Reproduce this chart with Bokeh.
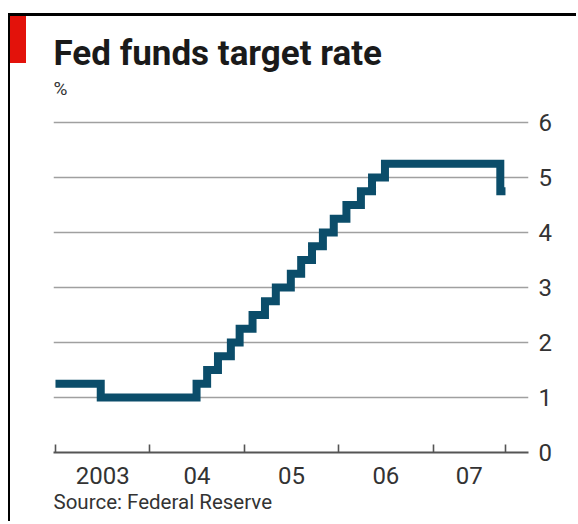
import pandas as pd
from bokeh.plotting import figure
from bokeh.models import Range1d, FixedTicker, Label, Title
from bokeh.embed import file_html
from bokeh.resources import INLINE

# ---- data (Fed funds target rate changes) ----
change_dates = ["2003-01-01", "2003-06-25", "2004-06-30", "2004-08-10", "2004-09-21",
                "2004-11-10", "2004-12-14", "2005-02-02", "2005-03-22", "2005-05-03",
                "2005-06-30", "2005-08-09", "2005-09-20", "2005-11-01", "2005-12-13",
                "2006-01-31", "2006-03-28", "2006-05-10", "2006-06-29", "2007-09-18",
                "2007-10-08"]
target_rate = [1.25, 1.00, 1.25, 1.50, 1.75, 2.00, 2.25, 2.50, 2.75, 3.00, 3.25,
               3.50, 3.75, 4.00, 4.25, 4.50, 4.75, 5.00, 5.25, 4.75, 4.75]
year_starts = [2003, 2004, 2005, 2006, 2007]
year_labels = ["2003", "04", "05", "06", "07"]
y_ticks = [0, 1, 2, 3, 4, 5, 6]

title_text = "Fed funds target rate"
unit_text = "%"
source_text = "Source: Federal Reserve"

FONT = "Roboto"
LINE_COLOR = "#0b4d6a"

d = pd.to_datetime(change_dates)
xs = list(d.year + (d.dayofyear - 1) / (365 + d.is_leap_year.astype(int)))
end_x = xs[-1]

# layout (pixels inside the canvas)
W, H = 568, 508
FRAME_BOTTOM = 436          # canvas y of value 0
PX_PER_UNIT = 55.0
Y_TOP = FRAME_BOTTOM / PX_PER_UNIT   # frame extends to canvas top (header lives inside)


def y_at(canvas_y):
    return (FRAME_BOTTOM - canvas_y) / PX_PER_UNIT


p = figure(width=W, height=H, output_backend="svg", toolbar_location=None,
           x_range=Range1d(2002.979, 2008.011), y_range=Range1d(0, Y_TOP),
           y_axis_location="right",
           min_border_left=43, min_border_right=50, min_border_top=0,
           min_border_bottom=H - FRAME_BOTTOM)
p.styles = {"margin-left": "8px", "margin-top": "13px",
            "border-left": "2px solid #000", "border-top": "3px solid #000",
            "background-color": "white",
            "background-image": "linear-gradient(#e3120b, #e3120b)",
            "background-size": "16px 47px", "background-repeat": "no-repeat"}
p.outline_line_color = None
p.background_fill_color = "white"
p.border_fill_color = None
p.xgrid.grid_line_color = None
p.ygrid.grid_line_color = "#a0a0a0"
p.ygrid.grid_line_width = 1.6
p.ygrid.ticker = FixedTicker(ticks=y_ticks[1:])

# y axis
ya = p.yaxis[0]
ya.ticker = FixedTicker(ticks=y_ticks)
ya.axis_line_color = None
ya.major_tick_line_color = None
ya.major_tick_out = 0
ya.major_tick_in = 0
ya.minor_tick_line_color = None
ya.major_label_standoff = 10
ya.major_label_text_align = "left"
ya.major_label_text_font = FONT
ya.major_label_text_font_size = "24px"
ya.major_label_text_color = "#333333"

# x axis: labels centred in each (possibly partial) year, ticks at year starts
bounds = [float(y) for y in year_starts] + [end_x]
mids = [(a + b) / 2 for a, b in zip(bounds[:-1], [y + 1.0 for y in year_starts[:-1]] + [end_x])]
xa = p.xaxis[0]
xa.ticker = FixedTicker(ticks=mids, minor_ticks=bounds)
xa.major_label_overrides = {m: lab for m, lab in zip(mids, year_labels)}
xa.major_tick_line_color = None
xa.major_tick_out = 0
xa.major_tick_in = 0
xa.minor_tick_in = 8
xa.minor_tick_out = 0
xa.minor_tick_line_color = "#555555"
xa.minor_tick_line_width = 1.6
xa.axis_line_color = "#555555"
xa.axis_line_width = 2
xa.major_label_standoff = 14
xa.major_label_text_font = FONT
xa.major_label_text_font_size = "24px"
xa.major_label_text_color = "#333333"

p.step(xs, target_rate, mode="after", line_width=8, line_color=LINE_COLOR,
       line_join="miter", line_cap="butt")

# source note below the axis, aligned with the plot's left edge
p.add_layout(Title(text=source_text, align="left", vertical_align="bottom", standoff=2,
                   text_font=FONT, text_font_style="normal", text_font_size="20.5px",
                   text_color="#333333"), "below")

x0 = p.x_range.start
p.add_layout(Label(x=x0, y=y_at(37), text=title_text,
                   text_font=FONT, text_font_style="bold", text_font_size="35px",
                   text_color="#1a1a1a", text_baseline="alphabetic"))
p.add_layout(Label(x=x0, y=y_at(72), text=unit_text,
                   text_font=FONT, text_font_size="19px",
                   text_color="#333333", text_baseline="alphabetic"))

open("out.html", "w").write(file_html(p, INLINE))
